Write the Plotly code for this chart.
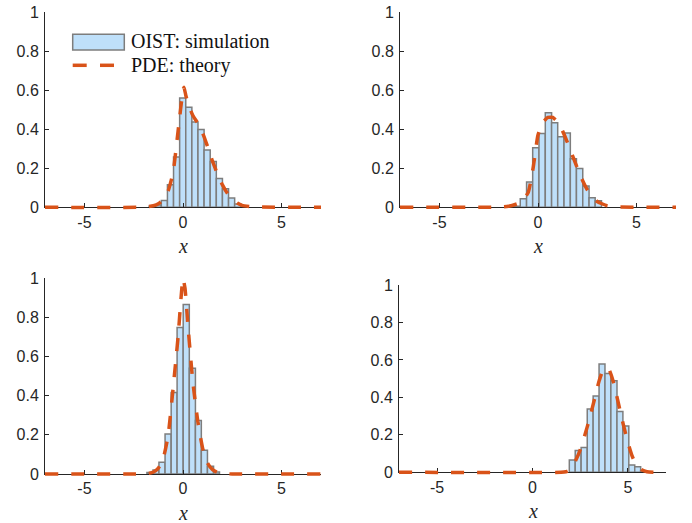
import plotly.graph_objects as go

# ---------------- data ----------------
# Panel 1 (top-left)
p1_edges = [-1.72, -1.41, -1.10, -0.79, -0.48, -0.17, 0.14, 0.45, 0.76, 1.07, 1.38, 1.69, 2.00, 2.31, 2.62, 2.93]
p1_heights = [0.005, 0.012, 0.035, 0.115, 0.257, 0.560, 0.512, 0.437, 0.398, 0.293, 0.234, 0.148, 0.095, 0.047, 0.017]
p1_curve_x = [-7, -2, -1.5, -1.25, -1.0, -0.75, -0.5, -0.25, 0, 0.05, 0.15, 0.3, 0.5, 0.75, 1.0, 1.25, 1.5, 1.75, 2.0, 2.25, 2.5, 2.75, 3.0, 3.5, 4.0, 7]
p1_curve_y = [0, 0.001, 0.008, 0.018, 0.04, 0.085, 0.18, 0.39, 0.60, 0.615, 0.57, 0.52, 0.47, 0.43, 0.38, 0.31, 0.235, 0.17, 0.115, 0.072, 0.042, 0.022, 0.01, 0.003, 0.001, 0]

# Panel 2 (top-right)
p2_edges = [-1.22, -0.90, -0.58, -0.27, 0.05, 0.37, 0.69, 1.00, 1.32, 1.64, 1.95, 2.27, 2.59, 2.90, 3.22]
p2_heights = [0.006, 0.044, 0.129, 0.305, 0.378, 0.484, 0.433, 0.361, 0.381, 0.249, 0.199, 0.109, 0.049, 0.034]
p2_curve_x = [-7, -2, -1.5, -1.0, -0.75, -0.5, -0.25, 0, 0.25, 0.5, 0.75, 1.0, 1.25, 1.5, 1.75, 2.0, 2.25, 2.5, 2.75, 3.0, 3.5, 4.0, 7]
p2_curve_y = [0, 0.001, 0.005, 0.02, 0.04, 0.075, 0.20, 0.37, 0.435, 0.46, 0.46, 0.435, 0.39, 0.33, 0.265, 0.20, 0.14, 0.09, 0.055, 0.03, 0.008, 0.002, 0]

# Panel 3 (bottom-left)
p3_edges = [-1.83, -1.52, -1.22, -0.91, -0.60, -0.30, 0.01, 0.32, 0.63, 0.93, 1.24, 1.55, 1.85]
p3_heights = [0.008, 0.020, 0.060, 0.205, 0.417, 0.748, 0.866, 0.540, 0.274, 0.121, 0.040, 0.010]
p3_curve_x = [-7, -2.5, -2.0, -1.75, -1.5, -1.25, -1.0, -0.75, -0.5, -0.25, -0.1, 0, 0.1, 0.25, 0.5, 0.75, 1.0, 1.25, 1.5, 1.75, 2.0, 2.5, 7]
p3_curve_y = [0, 0, 0.001, 0.003, 0.01, 0.03, 0.08, 0.20, 0.44, 0.70, 0.90, 1.0, 0.95, 0.76, 0.47, 0.27, 0.13, 0.055, 0.022, 0.008, 0.003, 0, 0]

# Panel 4 (bottom-right)
p4_edges = [1.93, 2.24, 2.55, 2.87, 3.18, 3.49, 3.80, 4.11, 4.43, 4.74, 5.05, 5.36, 5.67, 5.98]
p4_heights = [0.066, 0.116, 0.133, 0.338, 0.407, 0.578, 0.528, 0.489, 0.324, 0.247, 0.039, 0.030, 0.008]
p4_curve_x = [-7, 1.5, 1.75, 2.0, 2.25, 2.5, 2.75, 3.0, 3.25, 3.5, 3.75, 4.0, 4.25, 4.5, 4.75, 5.0, 5.25, 5.5, 5.75, 6.0, 6.5, 7]
p4_curve_y = [0, 0, 0.003, 0.015, 0.06, 0.12, 0.20, 0.29, 0.39, 0.49, 0.555, 0.55, 0.48, 0.37, 0.26, 0.16, 0.08, 0.035, 0.012, 0.003, 0, 0]

x_ticks = [-5, 0, 5]
x_ticktext = ["-5", "0", "5"]
y_ticks = [0, 0.2, 0.4, 0.6, 0.8, 1]
y_ticktext = ["0", "0.2", "0.4", "0.6", "0.8", "1"]
legend_labels = ["OIST: simulation", "PDE: theory"]
axis_label = "x"

# ---------------- styling / layout ----------------
BAR_FILL = "#BFE0FA"
BAR_EDGE = "#7D7D7D"
CURVE = "#D95319"
AX = "#262626"
DASH = "13px,13px"

W, H = 692, 523

# pixel boxes in the picture: (left, right, top, bottom)
boxes = [(45, 321, 12, 207.3), (400, 676, 12, 207.3), (45, 321, 278.3, 474), (399, 666, 285, 472.3)]
data = [(p1_edges, p1_heights, p1_curve_x, p1_curve_y),
        (p2_edges, p2_heights, p2_curve_x, p2_curve_y),
        (p3_edges, p3_heights, p3_curve_x, p3_curve_y),
        (p4_edges, p4_heights, p4_curve_x, p4_curve_y)]

def px(xp):
    return xp / W

def py(yp):
    return min(1.0, max(0.0, 1 - yp / H))

fig = go.Figure()
layout = dict(template="none", width=W, height=H, margin=dict(l=0, r=0, t=0, b=0, pad=0),
              paper_bgcolor="white", plot_bgcolor="rgba(0,0,0,0)", showlegend=False,
              font=dict(family="Liberation Sans", size=16, color=AX))
annotations = []
shapes = []
EXT = 5  # px extension of the curve clip region

for i, ((edges, heights, cx, cy), (l, r, t, b)) in enumerate(zip(data, boxes), start=1):
    xn = "x" if i == 1 else f"x{i}"
    yn = "y" if i == 1 else f"y{i}"
    yc = f"y{i + 4}"
    centers = [(edges[k] + edges[k + 1]) / 2 for k in range(len(heights))]
    widths = [edges[k + 1] - edges[k] for k in range(len(heights))]
    fig.add_trace(go.Bar(x=centers, y=heights, width=widths, xaxis=xn, yaxis=yn,
                         marker=dict(color=BAR_FILL, line=dict(color=BAR_EDGE, width=1.5)),
                         name=legend_labels[0]))
    fig.add_trace(go.Scatter(x=cx, y=cy, mode="lines", xaxis=xn, yaxis=yc,
                             line=dict(color=CURVE, width=3.5, dash=DASH, shape="spline", smoothing=0.5),
                             name=legend_labels[1]))
    hpx = b - t
    xkey = "xaxis" if i == 1 else f"xaxis{i}"
    ykey = "yaxis" if i == 1 else f"yaxis{i}"
    layout[xkey] = dict(domain=[px(l), px(r)], range=[-7, 7], anchor=yn, automargin=False,
                        showline=True, linecolor=AX, linewidth=1, ticks="inside", ticklen=4,
                        tickcolor=AX, tickvals=x_ticks, ticktext=x_ticktext, showgrid=False,
                        zeroline=False, fixedrange=True, ticklabeloverflow="allow")
    layout[ykey] = dict(domain=[py(b), py(t)], range=[0, 1], anchor=xn, automargin=False,
                        showline=True, linecolor=AX, linewidth=1, ticks="inside", ticklen=4,
                        tickcolor=AX, tickvals=y_ticks, ticktext=y_ticktext, showgrid=False,
                        zeroline=False, fixedrange=True, ticklabelstandoff=2,
                        ticklabeloverflow="allow")
    layout[f"yaxis{i + 4}"] = dict(domain=[py(b + EXT), py(t - EXT)], automargin=False,
                                   range=[-EXT / hpx, 1 + EXT / hpx], anchor=xn,
                                   visible=False, fixedrange=True)
    annotations.append(dict(text=f"<i>{axis_label}</i>", xref="paper", yref="paper",
                            x=px((l + r) / 2), y=py(b + 39), xanchor="center", yanchor="middle",
                            showarrow=False, font=dict(family="Liberation Serif", size=20, color=AX)))

# legend (drawn manually, MATLAB style)
shapes.append(dict(type="rect", xref="paper", yref="paper", x0=px(72.7), x1=px(124.3),
                   y0=py(50), y1=py(34.3), fillcolor=BAR_FILL, line=dict(color=BAR_EDGE, width=1.5)))
for x0, x1 in [(72.7, 86.7), (100, 114)]:
    shapes.append(dict(type="line", xref="paper", yref="paper", x0=px(x0), x1=px(x1),
                       y0=py(65.3), y1=py(65.3), line=dict(color=CURVE, width=3.5)))
for txt, yc_ in zip(legend_labels, [41.5, 65.5]):
    annotations.append(dict(text=txt, xref="paper", yref="paper", x=px(129.3), y=py(yc_),
                            xanchor="left", yanchor="middle", showarrow=False,
                            font=dict(family="Liberation Serif", size=20, color="#111111")))

layout["annotations"] = annotations
layout["shapes"] = shapes
fig.update_layout(**layout)
fig.write_html("out.html", config={"displayModeBar": False},
               post_script="document.body.style.margin='0px';document.body.style.overflow='hidden';")
